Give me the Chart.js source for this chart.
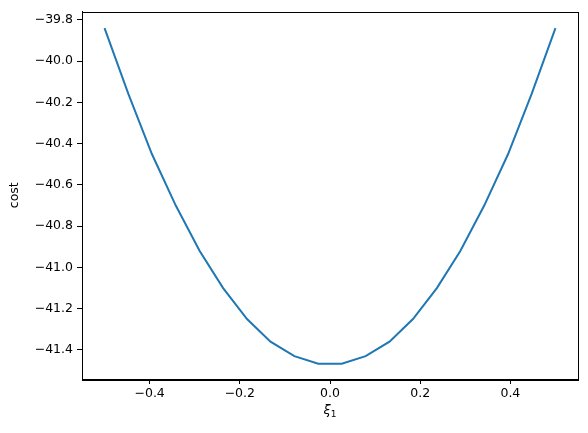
<!DOCTYPE html>
<html>
<head>
<meta charset="utf-8">
<script src="https://cdn.jsdelivr.net/npm/chart.js@4/dist/chart.umd.min.js"></script>
<style>
  html, body { margin: 0; padding: 0; background: #fff; }
  #wrap { width: 588px; height: 433px; }
</style>
</head>
<body>
<div id="wrap"><canvas id="myChart" width="588" height="433"></canvas></div>
<script>
// values
var xi1 = [-0.5, -0.447, -0.395, -0.342, -0.289, -0.237, -0.184, -0.132, -0.079, -0.026,
           0.026, 0.079, 0.132, 0.184, 0.237, 0.289, 0.342, 0.395, 0.447, 0.5];
var cost = [-39.84, -40.16, -40.45, -40.70, -40.92, -41.10, -41.25, -41.36, -41.43, -41.467,
            -41.467, -41.43, -41.36, -41.25, -41.10, -40.92, -40.70, -40.45, -40.16, -39.84];
var xTicks = [-0.4, -0.2, 0.0, 0.2, 0.4];
var yTicks = [-41.4, -41.2, -41.0, -40.8, -40.6, -40.4, -40.2, -40.0, -39.8];

function fmt(v) {
  var s = v.toFixed(1);
  return s.replace('-', '\u2212');
}

// box round the plot + the xi_1 label (mathtext style: italic xi, small subscript 1)
var frame = {
  id: 'frame',
  afterDraw: function (chart) {
    var a = chart.chartArea, ctx = chart.ctx;
    ctx.save();
    ctx.strokeStyle = '#000';
    ctx.lineWidth = 1;
    ctx.strokeRect(Math.round(a.left) + 0.5, Math.round(a.top) + 0.5,
                   Math.round(a.right - a.left), Math.round(a.bottom - a.top));
    var cx = (a.left + a.right) / 2;
    ctx.fillStyle = '#000';
    ctx.textBaseline = 'alphabetic';
    ctx.font = 'italic 13px "DejaVu Sans"';
    var w1 = ctx.measureText('\u03be').width;
    ctx.font = '9px "DejaVu Sans"';
    var w2 = ctx.measureText('1').width;
    var x0 = cx - (w1 + w2) / 2;
    ctx.font = 'italic 13px "DejaVu Sans"';
    ctx.textAlign = 'left';
    ctx.fillText('\u03be', x0, 414);
    ctx.font = '9px "DejaVu Sans"';
    ctx.fillText('1', x0 + w1, 417);
    ctx.restore();
  }
};

var font = { family: 'DejaVu Sans', size: 12.5 };

new Chart(document.getElementById('myChart'), {
  type: 'line',
  data: {
    datasets: [{
      data: xi1.map(function (x, i) { return { x: x, y: cost[i] }; }),
      borderColor: '#1f77b4',
      borderWidth: 2,
      pointRadius: 0,
      tension: 0,
      fill: false
    }]
  },
  options: {
    responsive: false,
    animation: false,
    layout: { padding: { top: 10, right: 10, left: 7, bottom: 0 } },
    plugins: { legend: { display: false }, tooltip: { enabled: false } },
    scales: {
      x: {
        type: 'linear',
        min: -0.55,
        max: 0.55,
        afterBuildTicks: function (s) { s.ticks = xTicks.map(function (v) { return { value: v }; }); },
        afterFit: function (s) { s.height = 54; },
        grid: { drawOnChartArea: false, tickLength: 5, tickColor: '#000', color: '#000' },
        border: { color: '#000' },
        ticks: { color: '#000', font: font, padding: 2, maxRotation: 0, callback: function (v) { return fmt(v); } }
      },
      y: {
        type: 'linear',
        min: -41.541,
        max: -39.759,
        afterBuildTicks: function (s) { s.ticks = yTicks.map(function (v) { return { value: v }; }); },
        afterFit: function (s) { s.width = 75; },
        grid: { drawOnChartArea: false, tickLength: 5, tickColor: '#000', color: '#000' },
        border: { color: '#000' },
        ticks: { color: '#000', font: font, padding: 4, callback: function (v) { return fmt(v); } },
        title: { display: true, text: 'cost', color: '#000', font: font, padding: { top: 0, bottom: 4 } }
      }
    }
  },
  plugins: [frame]
});
</script>
</body>
</html>
